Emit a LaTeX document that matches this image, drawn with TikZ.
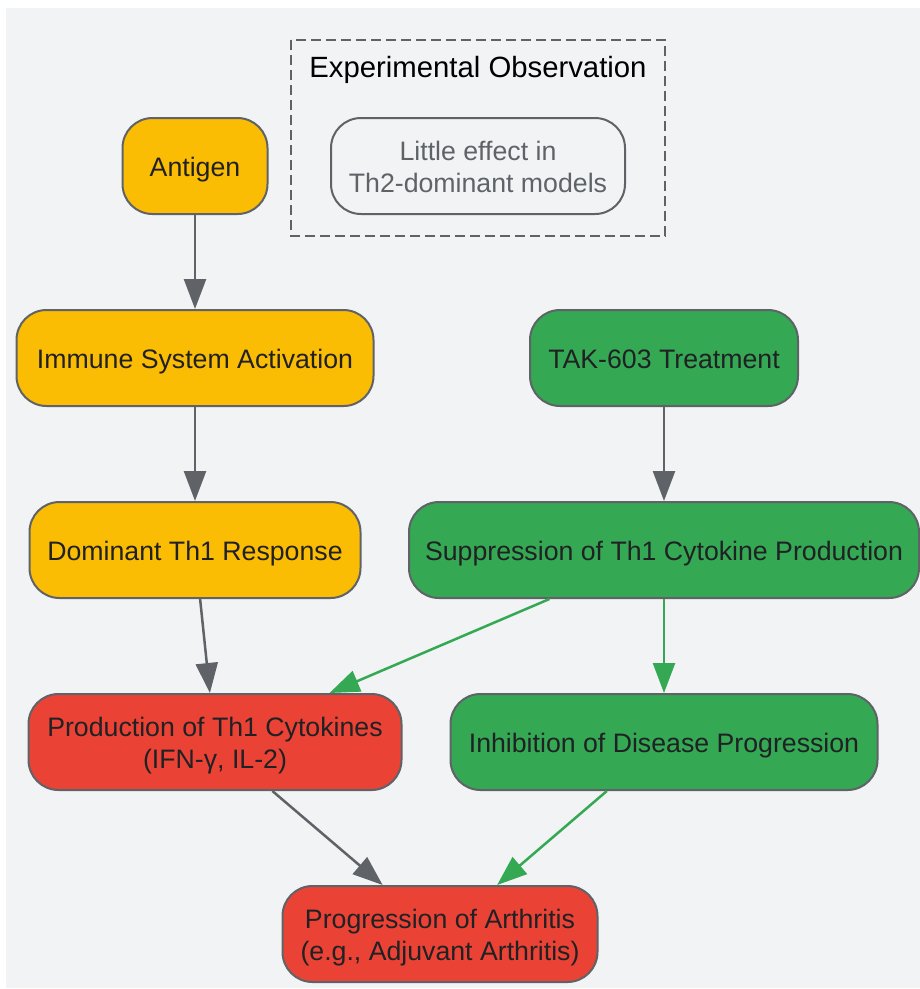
\documentclass[tikz,border=0pt]{standalone}
\usepackage{fontspec}
\setmainfont{Liberation Sans}
\usetikzlibrary{arrows.meta}
\definecolor{canvas}{HTML}{F1F3F4}
\definecolor{edgegray}{HTML}{5F6368}
\definecolor{immuneyellow}{HTML}{FBBC04}
\definecolor{drugreen}{HTML}{34A853}
\definecolor{diseasered}{HTML}{EA4335}
\definecolor{inktext}{HTML}{202124}
\begin{document}
\begin{tikzpicture}
[x=1pt,y=-1pt,%
  every node/.style={shape=rectangle,rounded corners=30pt,draw=edgegray,line width=2pt,%
    minimum height=96pt,inner sep=0pt,align=center,text=inktext,%
    font=\fontsize{26.7}{32}\selectfont,%
    execute at begin node={\rule{0pt}{26pt}},%
    execute at end node={\rule[-6pt]{0pt}{6pt}}},%
  twoline/.style={execute at begin node={\rule{0pt}{58pt}}},%
  immunebox/.style={fill=immuneyellow},%
  drugbox/.style={fill=drugreen},%
  diseasebox/.style={fill=diseasered},%
  notebox/.style={fill=canvas,text=edgegray},%
  grayedge/.style={-{Triangle[length=30pt,width=22pt]},line width=2.5pt,draw=edgegray},%
  greenedge/.style={-{Triangle[length=30pt,width=22pt]},line width=2.5pt,draw=drugreen}]
\fill[white] (0,0) rectangle (920,989);
\fill[canvas] (6,8) rectangle (920,988);
%%
\draw[edgegray,line width=2pt,dash pattern=on 10pt off 5pt] (291,40) rectangle (665,236);
\node[draw=none,minimum height=0pt,text=black,font=\fontsize{29.3}{34}\selectfont] (obstitle) at (478,68) {Experimental Observation};
\node[notebox,twoline,minimum width=294pt] (little) at (478,166) {Little effect in\\Th2-dominant models};
%%
\node[immunebox,minimum width=145pt] (antigen) at (195,166) {Antigen};
\node[immunebox,minimum width=357pt] (activation) at (195,358) {Immune System Activation};
\node[immunebox,minimum width=331pt] (th1resp) at (195,550) {Dominant Th1 Response};
%%
\node[drugbox,minimum width=268pt] (tak) at (664,358) {TAK-603 Treatment};
\node[drugbox,minimum width=510pt] (suppress) at (664,550) {Suppression of Th1 Cytokine Production};
\node[drugbox,minimum width=427pt] (inhibit) at (664,742) {Inhibition of Disease Progression};
%%
\node[diseasebox,twoline,minimum width=373pt] (cytokines) at (215,742) {Production of Th1 Cytokines\\(IFN-γ, IL-2)};
\node[diseasebox,twoline,minimum width=315pt] (arthritis) at (440,934) {Progression of Arthritis\\(e.g., Adjuvant Arthritis)};
%%
\path
\foreach \startNode/\endNode in {antigen/activation, activation/th1resp, th1resp/cytokines, tak/suppress, cytokines/arthritis}
{
  (\startNode) edge[grayedge] (\endNode)
};
\path
\foreach \startNode/\endNode in {suppress/cytokines, suppress/inhibit, inhibit/arthritis}
{
  (\startNode) edge[greenedge] (\endNode)
};
\end{tikzpicture}
\end{document}
